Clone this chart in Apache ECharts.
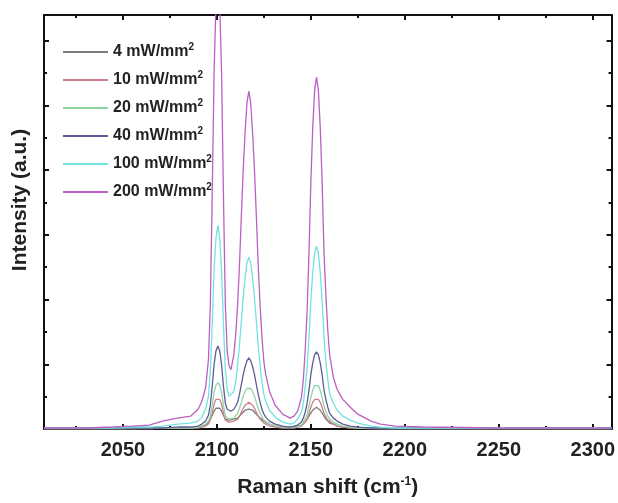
<!DOCTYPE html>
<html>
<head>
<meta charset="utf-8">
<script src="https://cdn.jsdelivr.net/npm/echarts@6/dist/echarts.min.js"></script>
<style>
  html, body { margin: 0; padding: 0; background: #fff; }
  #raman_chart { width: 618px; height: 503px; }
</style>
</head>
<body>
<div id="raman_chart"></div>
<script>
// Raman shift (cm-1), shared by every curve
const ramanShift = [2008, 2030, 2045, 2055, 2064, 2071, 2079, 2086, 2090, 2092,
  2094, 2095.5, 2096.5, 2097.5, 2098.5, 2099.5, 2100.5, 2101.5, 2102.5, 2103.5,
  2104.5, 2105.5, 2106.5, 2107.5, 2109, 2110, 2111, 2112, 2113, 2114,
  2115, 2116, 2117, 2118, 2119, 2120, 2121, 2122, 2123, 2124,
  2125, 2126, 2128, 2131, 2135, 2139, 2141, 2143, 2145, 2146,
  2147, 2148, 2149, 2150, 2151, 2152, 2153, 2154, 2155, 2156,
  2157, 2158, 2159, 2160, 2162, 2164, 2167, 2171, 2175, 2182,
  2187, 2195, 2210, 2250, 2310]

// intensity (a.u.) per power density
const int4 = [0.5, 0.5, 0.5, 0.5, 0.5, 1, 1, 1, 2, 3,
  4, 6, 10, 14, 18, 21, 22, 21, 18, 14,
  10, 9, 9, 9, 10, 11, 11, 13, 15, 17,
  19, 20, 20, 20, 19, 17, 15, 13, 11, 9,
  8, 7, 5, 3, 2, 2, 2, 3, 4, 5,
  7, 10, 13, 16, 19, 21, 22, 21, 19, 16,
  13, 10, 8, 6, 5, 3, 2, 1.5, 1, 0.5,
  0.5, 0.5, 0.5, 0.5, 0.5]
const int10 = [0.5, 0.5, 0.5, 0.5, 0.5, 1, 1, 1, 1, 2,
  3, 5, 9, 16, 25, 30, 32, 30, 25, 16,
  9, 7, 7, 7, 8, 9, 10, 13, 17, 21,
  24, 26, 27, 26, 24, 21, 17, 13, 10, 8,
  6, 5, 3, 2, 1, 1, 1, 2, 3, 4,
  7, 10, 16, 22, 27, 30, 31, 30, 27, 22,
  16, 12, 9, 7, 5, 3, 2, 1, 1, 0.5,
  0.5, 0.5, 0.5, 0.5, 0.5]
const int20 = [0.5, 0.5, 0.5, 0.5, 1, 1, 1, 1, 2, 3,
  5, 8, 13, 24, 37, 44, 47, 44, 37, 24,
  13, 11, 10, 10, 11, 13, 16, 21, 27, 33,
  38, 41, 43, 41, 38, 33, 27, 21, 16, 12,
  9, 7, 5, 3, 2, 1.5, 2, 2.5, 4, 6,
  10, 15, 23, 32, 39, 44, 46, 44, 39, 32,
  23, 18, 13, 10, 7, 5, 3, 2, 1, 1,
  0.5, 0.5, 0.5, 0.5, 0.5]
const int40 = [1, 1, 1, 1, 1, 1, 2, 2, 3, 5,
  8, 14, 24, 43, 65, 79, 84, 79, 65, 43,
  26, 20, 18, 18, 20, 23, 27, 35, 45, 55,
  63, 69, 72, 69, 63, 55, 45, 35, 27, 20,
  15, 12, 8, 5, 3, 2, 3, 4, 7, 11,
  17, 26, 39, 55, 67, 75, 78, 75, 67, 55,
  39, 30, 22, 16, 11, 8, 5, 3, 2, 1,
  1, 1, 1, 1, 1]
const int100 = [1, 1, 1, 2, 2, 3, 5, 6, 8, 12,
  20, 33, 58, 105, 160, 193, 206, 193, 160, 105,
  60, 40, 33, 31, 38, 48, 64, 84, 109, 133,
  153, 168, 174, 168, 153, 133, 109, 84, 64, 47,
  35, 28, 19, 12, 7, 5, 6, 10, 17, 26,
  42, 62, 93, 130, 158, 178, 185, 178, 158, 130,
  93, 68, 50, 36, 26, 19, 13, 9, 6, 3,
  2, 1, 1, 1, 1]
const int200 = [1, 1, 2, 3, 4, 8, 11, 13, 20, 28,
  42, 70, 125, 235, 360, 430, 460, 430, 360, 235,
  125, 78, 64, 60, 75, 95, 125, 165, 215, 262,
  300, 330, 342, 330, 300, 262, 215, 165, 125, 92,
  68, 55, 38, 24, 15, 11, 13, 18, 32, 50,
  80, 120, 178, 250, 305, 343, 356, 343, 305, 250,
  178, 135, 100, 75, 52, 40, 30, 22, 15, 8,
  5, 3, 2, 1, 1]

const seriesNames = ['4 mW/mm²', '10 mW/mm²', '20 mW/mm²', '40 mW/mm²', '100 mW/mm²', '200 mW/mm²']
const seriesValues = [int4, int10, int20, int40, int100, int200]
const colors = ['#7c7c7c', '#cc7f8a', '#8fd6a2', '#5c5c98', '#72e2e0', '#bb5fc4']

// ticks
const xMajor = [2050, 2100, 2150, 2200, 2250, 2300]
const xMinor = [2025, 2075, 2125, 2175, 2225, 2275]
const yMajor = [65.5, 131, 196.5, 262, 327.5, 393]
const yMinor = [32.75, 98.25, 163.75, 229.25, 294.75, 360.25]

const xMin = 2008
const xMax = 2310
const yMin = 0
const yMax = 419

const font = "'Liberation Sans', Arial, sans-serif"

function frameX (pos, ticks, len, labels) {
  return {
    type: 'value',
    position: pos,
    min: xMin,
    max: xMax,
    axisLine: { show: len > 4, onZero: false, lineStyle: { color: '#111', width: 2 } },
    axisTick: { show: true, inside: true, length: len, customValues: ticks, lineStyle: { color: '#111', width: 2 } },
    axisLabel: labels
      ? {
          show: true,
          customValues: ticks,
          margin: 11,
          color: '#222',
          fontSize: 20,
          fontWeight: 'bold',
          fontFamily: font,
          formatter: v => String(v)
        }
      : { show: false },
    splitLine: { show: false }
  }
}

function frameY (pos, ticks, len) {
  return {
    type: 'value',
    position: pos,
    min: yMin,
    max: yMax,
    axisLine: { show: len > 4, onZero: false, lineStyle: { color: '#111', width: 2 } },
    axisTick: { show: true, inside: true, length: len, customValues: ticks, lineStyle: { color: '#111', width: 2 } },
    axisLabel: { show: false },
    splitLine: { show: false }
  }
}

const xAxes = [
  frameX('bottom', xMajor, 5, true),
  frameX('bottom', xMinor, 3, false),
  frameX('top', xMajor, 5, false),
  frameX('top', xMinor, 3, false)
]
xAxes[0].name = 'Raman shift (cm{s|-1})'
xAxes[0].nameLocation = 'middle'
xAxes[0].nameGap = 47
xAxes[0].nameTextStyle = {
  color: '#222',
  fontSize: 21,
  fontWeight: 'bold',
  fontFamily: font,
  rich: {
    s: { fontSize: 12, fontWeight: 'bold', fontFamily: font, color: '#222', padding: [0, 0, 11, 0] }
  }
}

const yAxes = [
  frameY('left', yMajor, 5),
  frameY('left', yMinor, 3),
  frameY('right', yMajor, 5),
  frameY('right', yMinor, 3)
]
yAxes[0].name = 'Intensity (a.u.)'
yAxes[0].nameLocation = 'middle'
yAxes[0].nameGap = 13
yAxes[0].nameTextStyle = {
  color: '#222',
  fontSize: 21,
  fontWeight: 'bold',
  fontFamily: font,
  padding: [0, 0, 0, 44]
}

const series = seriesNames.map((name, i) => ({
  name: name,
  type: 'line',
  symbol: 'none',
  smooth: false,
  xAxisIndex: 0,
  yAxisIndex: 0,
  data: ramanShift.map((x, j) => [x, seriesValues[i][j]]),
  lineStyle: { color: colors[i], width: 1.3 },
  itemStyle: { color: colors[i] }
}))

const option = {
  animation: false,
  backgroundColor: '#fff',
  grid: { left: 44, right: 6, top: 15, bottom: 69, containLabel: false },
  xAxis: xAxes,
  yAxis: yAxes,
  legend: {
    orient: 'vertical',
    left: 62,
    top: 42,
    padding: 0,
    itemWidth: 45,
    itemHeight: 16,
    itemGap: 8,
    // only the line in the legend, no marker
    itemStyle: { opacity: 0 },
    data: seriesNames,
    formatter: name => '{a|' + name.replace('²', '') + '}{s|2}',
    textStyle: {
      color: '#222',
      rich: {
        a: { fontSize: 16, lineHeight: 16, fontWeight: 'bold', fontFamily: font, color: '#222' },
        s: { fontSize: 10, lineHeight: 10, fontWeight: 'bold', fontFamily: font, color: '#222', padding: [0, 0, 10, 0] }
      }
    }
  },
  series: series
}

const myChart = echarts.init(document.getElementById('raman_chart'))
myChart.setOption(option)
</script>
</body>
</html>
